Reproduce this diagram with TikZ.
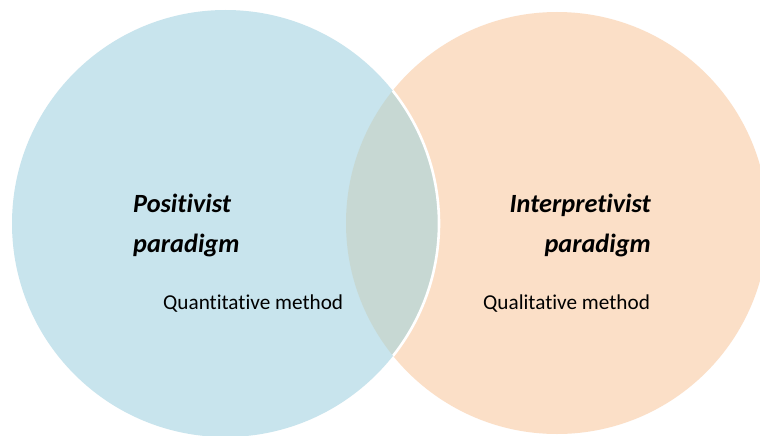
\documentclass[tikz,border=0pt]{standalone}
\usepackage{fontspec}
\setmainfont{Carlito}[Ligatures=NoCommon]
\definecolor{posblue}{RGB}{200,228,237}
\definecolor{intorange}{RGB}{251,223,199}
\definecolor{lensgrey}{RGB}{199,216,211}
\tikzset{
  headtxt/.style={inner sep=0pt, font=\fontsize{26.3}{30}\selectfont\bfseries\itshape, text=black},
  bodytxt/.style={inner sep=0pt, font=\fontsize{21.2}{24}\selectfont, text=black}
}
\begin{document}
\begin{tikzpicture}[x=1pt,y=-1pt]
\useasboundingbox (0,0) rectangle (760,436);
\clip (0,0) rectangle (760,436);
\fill[white] (0,0) rectangle (760,436);
% circles
\fill[intorange] (557,223) circle[radius=211];
\fill[posblue] (225.5,223.5) circle[radius=213.5];
\begin{scope}
  \clip (557,223) circle[radius=211];
  \fill[lensgrey] (225.5,223.5) circle[radius=213.5];
  \draw[white, line width=2.6pt] (225.5,223.5) circle[radius=213.5];
\end{scope}
% texts
\node[headtxt, anchor=base west] (p1) at (133,212) {Positivist};
\node[headtxt, anchor=base west] (p2) at (133,252) {paradigm};
\node[bodytxt, anchor=base west] (q1) at (163,309) {Quantitative method};
\node[headtxt, anchor=base east] (i1) at (651,212) {Interpretivist};
\node[headtxt, anchor=base east] (i2) at (651,252) {paradigm};
\node[bodytxt, anchor=base west] (q2) at (483,309) {Qualitative method};
\end{tikzpicture}
\end{document}
